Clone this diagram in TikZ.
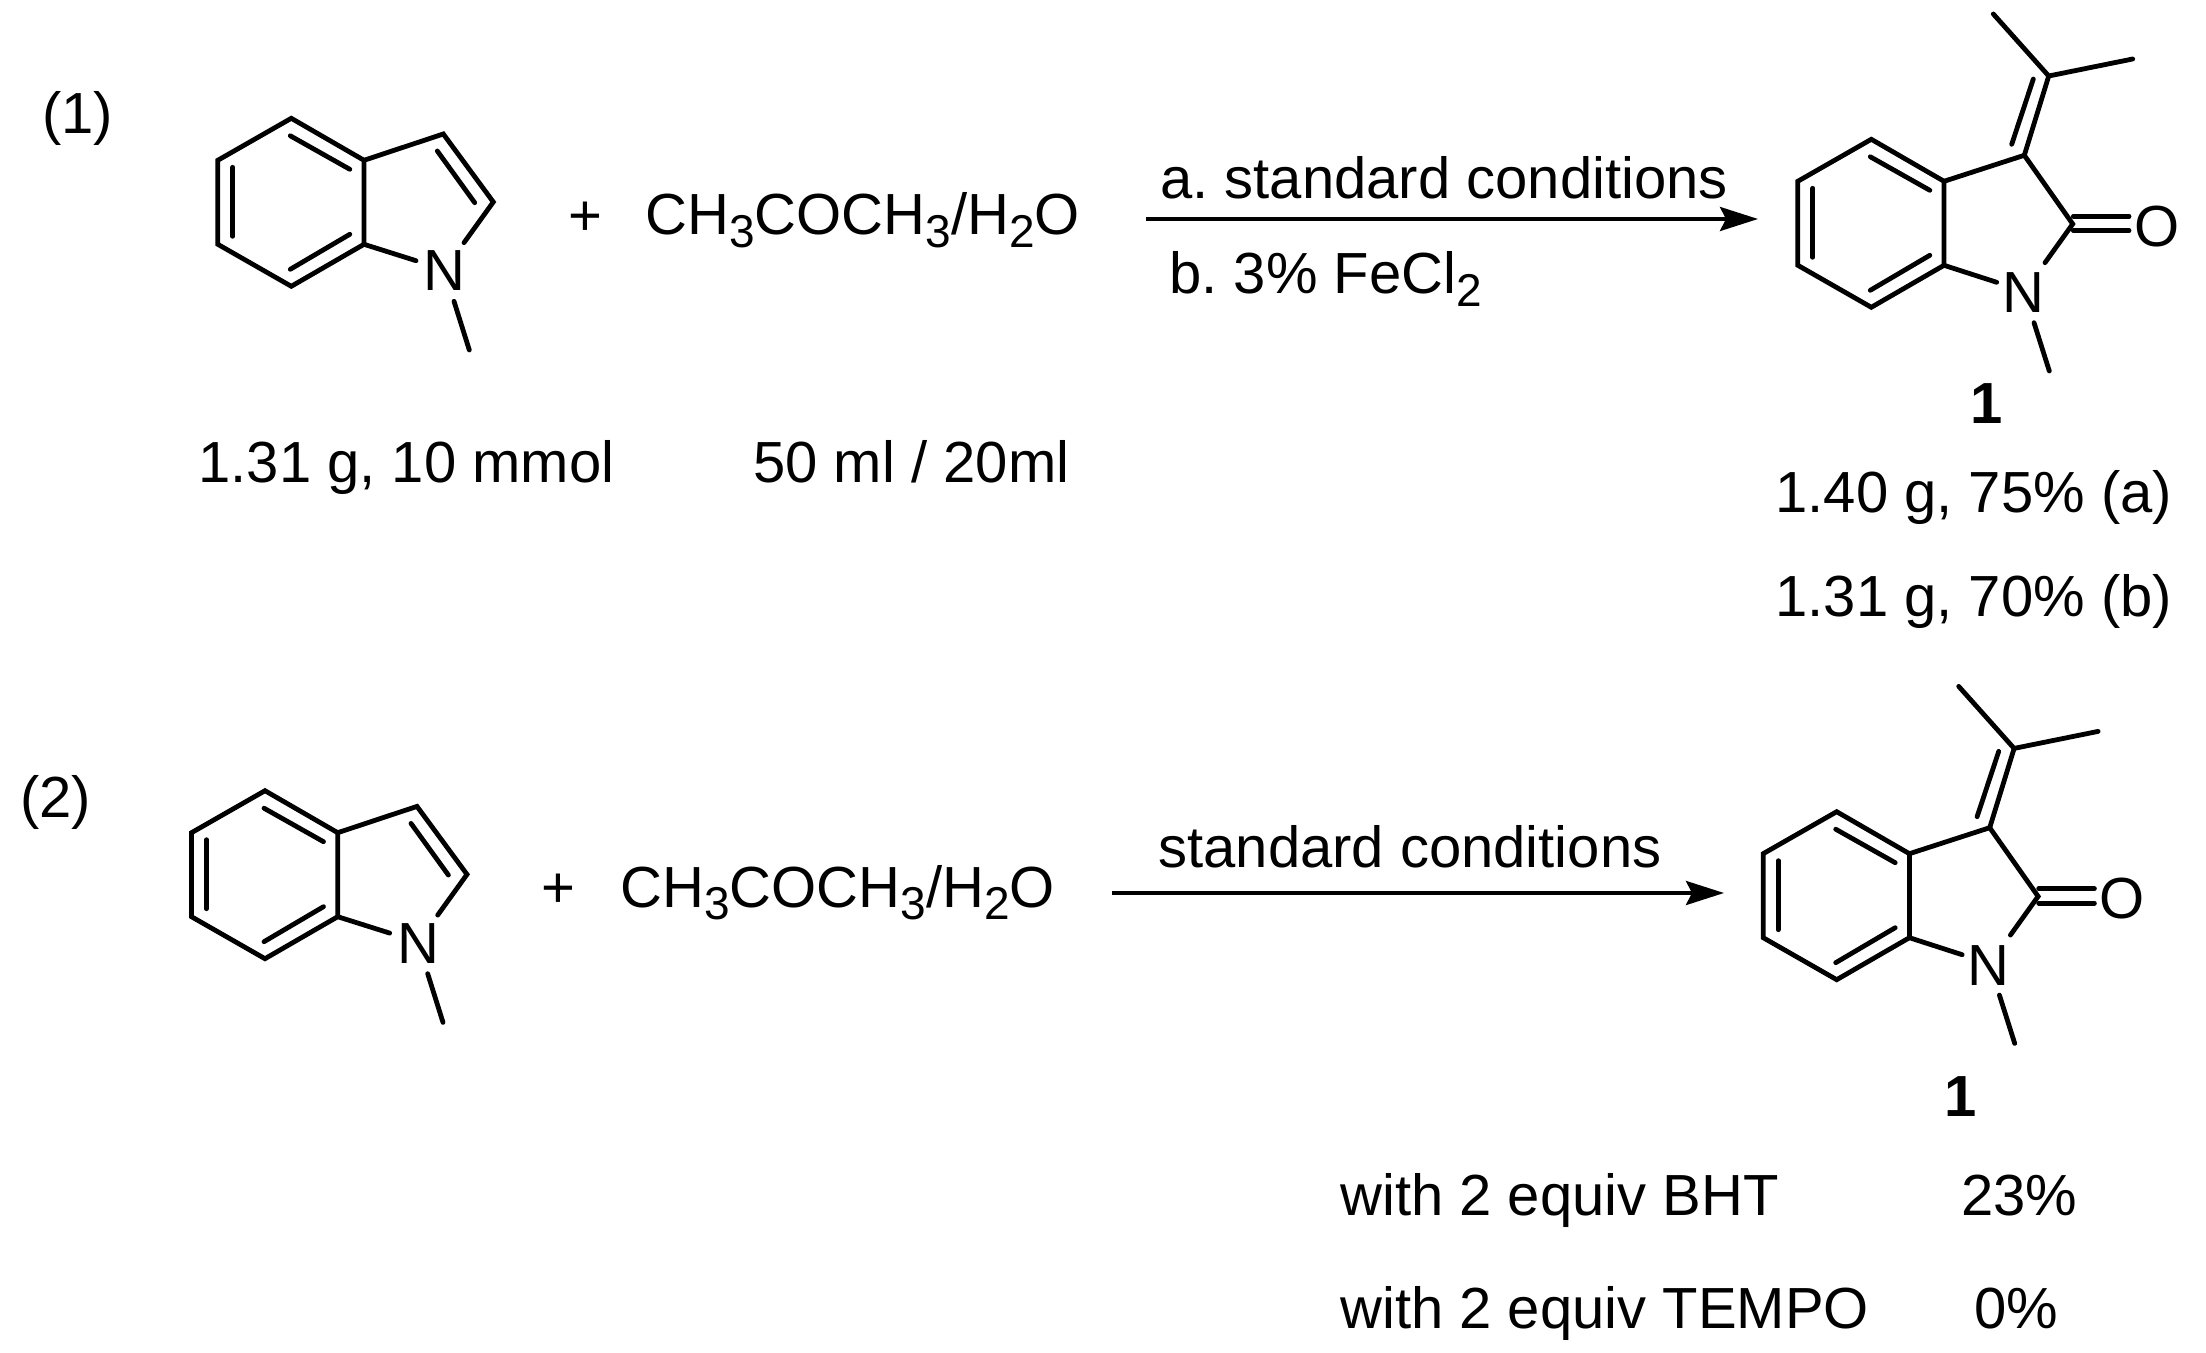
\documentclass[tikz,border=0pt]{standalone}
\usepackage{fontspec}
\setmainfont{Liberation Sans}
\usetikzlibrary{arrows.meta}
\frenchspacing
\newcommand{\sbs}[1]{\raisebox{-0.22em}{\fontsize{23}{25}\selectfont #1}}
\tikzset{
  x=0.5pt,y=-0.5pt,
  bond/.style={line width=2.4pt,line cap=round,line join=miter},
  rxnarrow/.style={line width=1.9pt,-{Stealth[length=19pt,width=12pt,inset=3pt]}},
  txt/.style={inner sep=0pt,anchor=base west,font=\fontsize{29}{34}\selectfont},
  atom/.style={inner sep=0pt,anchor=base,font=\fontsize{29}{34}\selectfont},
  num/.style={inner sep=0pt,anchor=base,font=\fontsize{29}{34}\selectfont\bfseries},
}
\newcommand{\benzring}[1]{%
  \coordinate (#1t) at (0,0);
  \coordinate (#1ul) at (-73.5,42);
  \coordinate (#1ll) at (-73.5,126);
  \coordinate (#1b) at (0,168);
  \coordinate (#1lr) at (72.7,126);
  \coordinate (#1ur) at (72.7,42);
  \draw[bond] (#1t) -- (#1ul) -- (#1ll) -- (#1b) -- (#1lr) -- (#1ur) -- cycle;
  \coordinate (#1i1) at (-1,17.5); \coordinate (#1i2) at (58.5,51);
  \coordinate (#1i3) at (-58.5,49); \coordinate (#1i4) at (-58.5,118);
  \coordinate (#1i5) at (-1,151); \coordinate (#1i6) at (58.5,116);
  \draw[bond] (#1i1) -- (#1i2);
  \draw[bond] (#1i3) -- (#1i4);
  \draw[bond] (#1i5) -- (#1i6);
}
\newcommand{\indolemol}[3]{%
  \begin{scope}[shift={(#2,#3)}]
    \benzring{#1}
    \node[atom] (#1N) at (153,172.5) {N};
    \coordinate (#1c3) at (152,15.7);
    \coordinate (#1c2) at (202,83.7);
    \coordinate (#1a) at (124.7,142.4);
    \coordinate (#1c) at (172.7,124.4);
    \coordinate (#1m1) at (162.7,183);
    \coordinate (#1m2) at (178,231.7);
    \coordinate (#1d1) at (146,32.7);
    \coordinate (#1d2) at (183.4,84.4);
    \draw[bond] (#1ur) -- (#1c3) -- (#1c2) -- (#1c);
    \draw[bond] (#1d1) -- (#1d2);
    \draw[bond] (#1lr) -- (#1a);
    \draw[bond] (#1m1) -- (#1m2);
  \end{scope}
}
\newcommand{\oxindolemol}[3]{%
  \begin{scope}[shift={(#2,#3)}]
    \benzring{#1}
    \node[atom] (#1N) at (152,173.4) {N};
    \node[atom] (#1O) at (285.7,107) {O};
    \coordinate (#1c3) at (153,16);
    \coordinate (#1c2) at (201.4,84.7);
    \coordinate (#1cx) at (177.4,-63.3);
    \coordinate (#1me1) at (122,-125.3);
    \coordinate (#1me2) at (261.4,-80.3);
    \coordinate (#1e1) at (140.4,5);
    \coordinate (#1e2) at (162,-60.3);
    \coordinate (#1o1) at (202,77);
    \coordinate (#1o2) at (257.7,77);
    \coordinate (#1o3) at (202,91.4);
    \coordinate (#1o4) at (257.7,91.4);
    \coordinate (#1a) at (125.4,143);
    \coordinate (#1c) at (173.7,123.4);
    \coordinate (#1m1) at (162.7,183.4);
    \coordinate (#1m2) at (178,231.7);
    \draw[bond] (#1ur) -- (#1c3) -- (#1c2) -- (#1c);
    \draw[bond] (#1c3) -- (#1cx);
    \draw[bond] (#1me1) -- (#1cx) -- (#1me2);
    \draw[bond] (#1e1) -- (#1e2);
    \draw[bond] (#1o1) -- (#1o2);
    \draw[bond] (#1o3) -- (#1o4);
    \draw[bond] (#1lr) -- (#1a);
    \draw[bond] (#1m1) -- (#1m2);
  \end{scope}
}
\begin{document}
\begin{tikzpicture}
  \useasboundingbox (0,0) rectangle (2206,1353);
  \fill[white] (0,0) rectangle (2206,1353);

  \indolemol{A}{291.3}{118.3}
  \oxindolemol{P}{1871.3}{139.3}
  \indolemol{B}{265}{790.7}
  \oxindolemol{Q}{1836.7}{811.7}

  \node[txt] (lab1) at (42,134) {(1)};
  \node[txt] (lab2) at (20,817) {(2)};
  \node[atom] (plus1) at (585,236) {+};
  \node[atom] (plus2) at (558,907) {+};
  \node[txt] (acet1) at (645,235) {CH\sbs{3}COCH\sbs{3}/H\sbs{2}O};
  \node[txt] (acet2) at (620,907) {CH\sbs{3}COCH\sbs{3}/H\sbs{2}O};
  \node[txt] (amt1) at (198,482) {1.31 g, 10 mmol};
  \node[txt] (amt2) at (753,482) {50 ml / 20ml};
  \node[txt] (cond1) at (1160,199) {a. standard conditions};
  \node[txt] (cond2) at (1169,294) {b. 3\% FeCl\sbs{2}};
  \node[txt] (cond3) at (1158,867) {standard conditions};
  \node[num] (numP) at (1987,423) {1};
  \node[num] (numQ) at (1961,1116) {1};
  \node[txt] (yielda) at (1775,512) {1.40 g, 75\% (a)};
  \node[txt] (yieldb) at (1775,616) {1.31 g, 70\% (b)};
  \node[txt] (bht) at (1340,1215) {with 2 equiv BHT};
  \node[txt] (bhty) at (1961,1215) {23\%};
  \node[txt] (tempo) at (1340,1328) {with 2 equiv TEMPO};
  \node[txt] (tempoy) at (1974,1328) {0\%};

  \coordinate (ar1s) at (1146,219);
  \coordinate (ar1e) at (1758,219);
  \coordinate (ar2s) at (1112,893);
  \coordinate (ar2e) at (1724,893);
  \draw[rxnarrow] (ar1s) -- (ar1e);
  \draw[rxnarrow] (ar2s) -- (ar2e);
\end{tikzpicture}
\end{document}
